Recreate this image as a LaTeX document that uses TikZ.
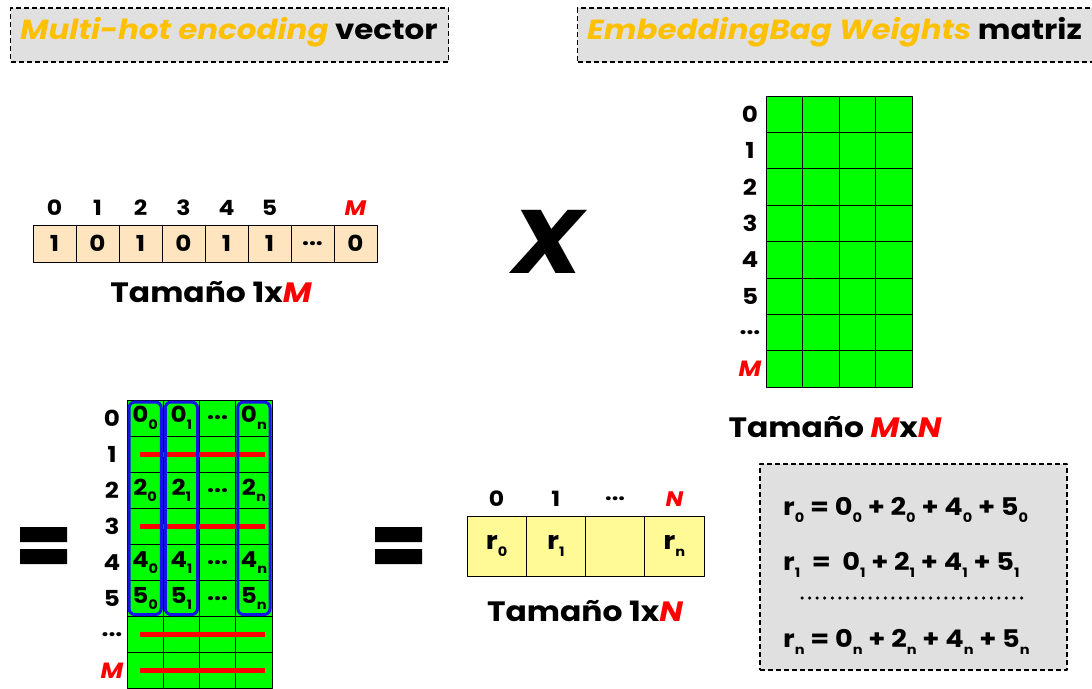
\documentclass[tikz,border=0pt]{standalone}
\usepackage{fontspec}
\setmainfont{Poppins}[FakeStretch=1.12]
\usetikzlibrary{positioning,fit,calc}
\definecolor{peach}{HTML}{FFE5BF}
\definecolor{lemon}{HTML}{FFFA96}
\definecolor{leaf}{HTML}{00FF00}
\definecolor{panel}{HTML}{E0E0E0}
\definecolor{gold}{HTML}{FFC000}
\definecolor{hot}{HTML}{FF0000}
\definecolor{ring}{HTML}{1414E6}
\newcommand{\fs}[1]{\fontsize{#1}{#1}\selectfont}
\newcommand{\ix}[2]{#1\raisebox{-0.55ex}{\fs{13}#2}}
\newcommand{\red}[1]{\textcolor{hot}{\itshape #1}}
\newcommand{\dd}{...}
\tikzset{
  every picture/.style={line join=round},
  title/.style={draw=black, dashed, dash pattern=on 5pt off 3pt, line width=1.2pt, fill=panel,
    anchor=west, inner sep=0pt, minimum height=54pt},
  htext/.style={anchor=west, font=\fs{27.6}\bfseries, inner sep=0pt},
  cell/.style={draw=black, line width=1pt, inner sep=0pt, font=\fs{22}\bfseries},
  vcell/.style={cell, fill=peach, minimum width=43pt, minimum height=37pt},
  wcell/.style={cell, fill=leaf, minimum width=36.5pt, minimum height=36.4pt},
  ecell/.style={cell, fill=leaf, minimum width=36.25pt, minimum height=36.1pt},
  rcell/.style={cell, fill=lemon, minimum width=59.25pt, minimum height=60pt},
  idx/.style={font=\fs{21}\bfseries, inner sep=0pt},
  size/.style={font=\fs{28}\bfseries, inner sep=0pt},
  colring/.style={draw=ring, line width=3pt, rounded corners=6pt, inner sep=-2.5pt},
  bar/.style={draw=hot, line width=5pt},
  eqline/.style={anchor=base west, font=\fs{24.3}\bfseries, inner sep=0pt},
  note/.style={draw=black, dashed, dash pattern=on 5pt off 3pt, line width=1.2pt, fill=panel},
}
\begin{document}
\begin{tikzpicture}[x=1pt, y=-1pt]
  \useasboundingbox (0,0) rectangle (1092,688);
  % headings
  \node[title, minimum width=438pt] (hv) at (10,35) {};
  \node[htext] (hvt) at (20,32) {\textcolor{gold}{\itshape Multi-hot encoding} vector};
  \node[title, minimum width=525pt] (hw) at (577,35) {};
  \node[htext] (hwt) at (587,32) {\textcolor{gold}{\itshape EmbeddingBag Weights} matriz};
  % multi-hot vector
  \foreach \v [count=\i from 0] in {1,0,1,0,1,1,\dd,0}
    \node[vcell] (v\i) at ({54.5+43*\i},243.5) {\v};
  \foreach \t [count=\i from 0] in {0,1,2,3,4,5,{},\red{M}}
    \node[idx] (vi\i) at ({54.5+43*\i},208) {\t};
  \node[size] (vs) at (211,292) {Tamaño 1x\red{M}};
  % times
  \node[font=\fs{90}\bfseries\itshape, inner sep=0pt] (times) at (548,242) {X};
  % weights matrix
  \foreach \r in {0,...,7}
    \foreach \c in {0,...,3}
      \node[wcell] (w-\r-\c) at ({766+36.5*(\c+0.5)},{96+36.4*(\r+0.5)}) {};
  \foreach \t [count=\r from 0] in {0,1,2,3,4,5,\dd,\red{M}}
    \node[idx, font=\fs{22}\bfseries] (wi\r) at (750,{96+36.4*(\r+0.5)}) {\t};
  \node[size] (ws) at (835,427) {Tamaño \red{M}x\red{N}};
  % equals
  \fill (20,527) rectangle (67,542) (20,549) rectangle (67,564);
  \fill (375,527) rectangle (422,542) (375,549) rectangle (422,564);
  % selected rows
  \foreach \r in {0,...,7}
    \foreach \c in {0,...,3}
      \node[ecell] (e-\r-\c) at ({127+36.25*(\c+0.5)},{400+36.1*(\r+0.5)}) {};
  \foreach \t [count=\r from 0] in {0,1,2,3,4,5,\dd,\red{M}}
    \node[idx, font=\fs{22}\bfseries] (ei\r) at (112,{400+36.1*(\r+0.5)}) {\t};
  \foreach \r in {0,2,4,5} {
    \node[idx, font=\fs{22}\bfseries] (t-\r-0) at (e-\r-0) {\ix{\r}{0}};
    \node[idx, font=\fs{22}\bfseries] (t-\r-1) at (e-\r-1) {\ix{\r}{1}};
    \node[idx, font=\fs{22}\bfseries] (t-\r-2) at (e-\r-2) {\dd};
    \node[idx, font=\fs{22}\bfseries] (t-\r-3) at (e-\r-3) {\ix{\r}{n}};
  }
  \foreach \r in {1,3,6,7}
    \draw[bar] ($(e-\r-0.west)+(13,0)$) -- ($(e-\r-3.east)+(-8,0)$);
  \foreach \c in {0,1,3}
    \node[colring, fit=(e-0-\c)(e-5-\c)] (g\c) {};
  % result vector
  \foreach \t [count=\i from 0] in {\ix{r}{0},\ix{r}{1},{},\ix{r}{n}}
    \node[rcell, font=\fs{25}\bfseries] (r\i) at ({467+59.25*(\i+0.5)},546) {\t};
  \foreach \t [count=\i from 0] in {0,1,\dd,\red{N}}
    \node[idx] (ri\i) at ({467+59.25*(\i+0.5)},499) {\t};
  \node[size] (rs) at (585,611) {Tamaño 1x\red{N}};
  % sums
  \node[note, minimum width=307pt, minimum height=206pt] (sums) at (913.5,567) {};
  \node[eqline] (s0) at (783,515) {\ix{r}{0} = \ix{0}{0} + \ix{2}{0} + \ix{4}{0} + \ix{5}{0}};
  \node[eqline] (s1) at (783,570) {\ix{r}{1} \ = \ \ix{0}{1} + \ix{2}{1} + \ix{4}{1} + \ix{5}{1}};
  \coordinate (d0) at (802,598);
  \coordinate (d1) at (1029,598);
  \draw[line width=3.5pt, line cap=round, dash pattern=on 0pt off 7.57pt] (d0) -- (d1);
  \node[eqline] (sn) at (783,647) {\ix{r}{n} = \ix{0}{n} + \ix{2}{n} + \ix{4}{n} + \ix{5}{n}};
\end{tikzpicture}
\end{document}
